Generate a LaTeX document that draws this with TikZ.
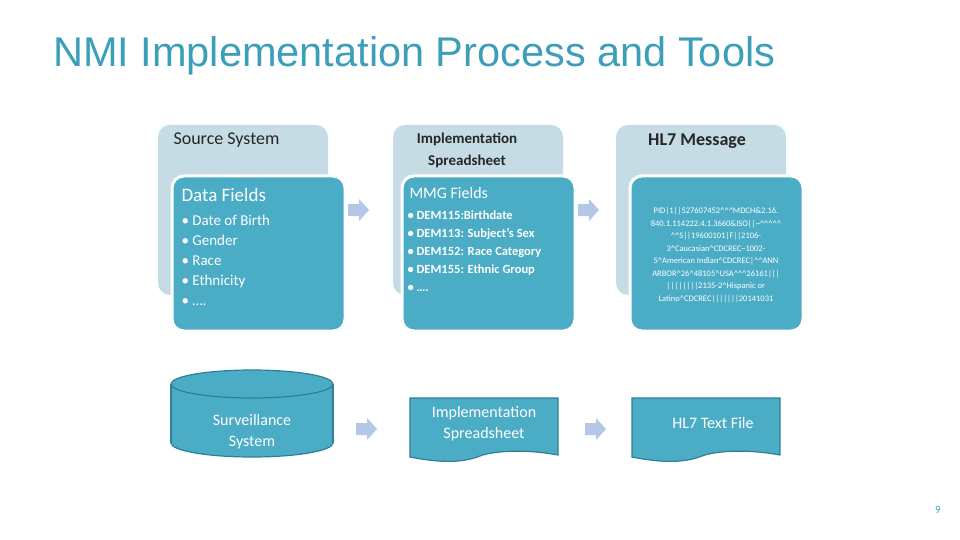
\documentclass[tikz,border=0pt]{standalone}
\usepackage{fontspec}
\setmainfont{Carlito}
\newfontfamily\titlefont{Liberation Sans}
\definecolor{teal1}{HTML}{4BACC6}
\definecolor{backc}{HTML}{C6DCE4}
\definecolor{arrc}{HTML}{B4C7E7}
\definecolor{titc}{HTML}{3B9FBA}
\definecolor{edgec}{HTML}{2F7F96}
\tikzset{
  backcard/.style={fill=backc,rounded corners=12pt},
  frontcard/.style={fill=teal1,draw=white,line width=3pt,rounded corners=12pt},
  bhead/.style={text=black!85,font=\fontsize{18}{20}\selectfont,align=center},
  fhead/.style={text=white,font=\fontsize{19}{20}\selectfont,anchor=west},
  blist/.style={text=white,anchor=north west,align=left},
  blockarr/.style={fill=arrc},
  shapec/.style={fill=teal1,draw=edgec,line width=1.2pt},
  stext/.style={text=white,font=\fontsize{16}{21}\selectfont,align=center}
}
\begin{document}
\begin{tikzpicture}[x=1pt,y=-1pt]
\useasboundingbox (0,0) rectangle (960,540);
\node[anchor=base west,text=titc,font=\titlefont\fontsize{41.5}{44}\selectfont,inner sep=0] (title) at (53,67) {NMI Implementation Process and Tools};
% cards
\foreach \bx/\fx in {158/172,393/402,616/630}{
  \fill[backcard] (\bx,125) rectangle (\bx+170,295);
  \draw[frontcard] (\fx,176) rectangle (\fx+173,331);
}
\node[bhead,anchor=west] (h1) at (170,140) {Source System};
\node[bhead,font=\fontsize{15}{22}\selectfont\bfseries] (h2) at (467,150) {Implementation\\Spreadsheet};
\node[bhead,font=\fontsize{18}{20}\selectfont\bfseries] (h3) at (697,141) {HL7 Message};
\node[fhead] (f1) at (178,195) {Data Fields};
\node[fhead,font=\fontsize{16}{18}\selectfont] (f2) at (406,193) {MMG Fields};
\node[blist,font=\fontsize{15}{20}\selectfont] (l1) at (178,212) {• Date of Birth\\• Gender\\• Race\\• Ethnicity\\• ….};
\node[blist,font=\fontsize{12.5}{18}\selectfont\bfseries] (l2) at (404,207) {• DEM115:Birthdate\\• DEM113: Subject’s Sex\\• DEM152: Race Category\\• DEM155: Ethnic Group\\• ….};
\node[text=white,font=\fontsize{8.5}{12.5}\selectfont,align=center] (msg) at (716,255) {PID|1||527607452\textasciicircum\textasciicircum\textasciicircum MDCH\&2.16.\\840.1.114222.4.1.3660\&ISO||\textasciitilde\textasciicircum\textasciicircum\textasciicircum\textasciicircum\textasciicircum\\\textasciicircum\textasciicircum S||19600101|F||2106-\\3\textasciicircum Caucasian\textasciicircum CDCREC\textasciitilde 1002-\\5\textasciicircum American Indian\textasciicircum CDCREC|\textasciicircum\textasciicircum ANN\\ARBOR\textasciicircum 26\textasciicircum 48105\textasciicircum USA\textasciicircum\textasciicircum\textasciicircum 26161|||\\||||||||2135-2\textasciicircum Hispanic or\\Latino\textasciicircum CDCREC|||||||20141031};
% arrows
\foreach \ax/\ay in {348/199,578/199,356/418,585/418}{
  \fill[blockarr] (\ax,\ay+5) -- (\ax+11,\ay+5) -- (\ax+11,\ay) -- (\ax+21,\ay+11) -- (\ax+11,\ay+22) -- (\ax+11,\ay+17) -- (\ax,\ay+17) -- cycle;
}
% cylinder
\fill[teal1] (171,384) rectangle (333,443);
\draw[shapec] (252,443) ellipse[x radius=81,y radius=14];
\fill[teal1] (172,384) rectangle (332,443);
\draw[edgec,line width=1.2pt] (171,384) -- (171,443) (333,384) -- (333,443);
\draw[shapec] (252,384) ellipse[x radius=81,y radius=14];
\node[stext] (cyl) at (252,432) {Surveillance\\System};
% documents
\foreach \dx in {410,632}{
  \draw[shapec] (\dx,398) -- (\dx+148,398) -- (\dx+148,455) .. controls (\dx+110,448) and (\dx+80,452) .. (\dx+70,456) .. controls (\dx+50,464) and (\dx+25,462) .. (\dx,457) -- cycle;
}
\node[stext] (doc1) at (484,424) {Implementation\\Spreadsheet};
\node[stext] (doc2) at (713,423) {HL7 Text File};
\node[text=titc,font=\fontsize{11}{12}\selectfont] (pg) at (938,510) {9};
\end{tikzpicture}
\end{document}
